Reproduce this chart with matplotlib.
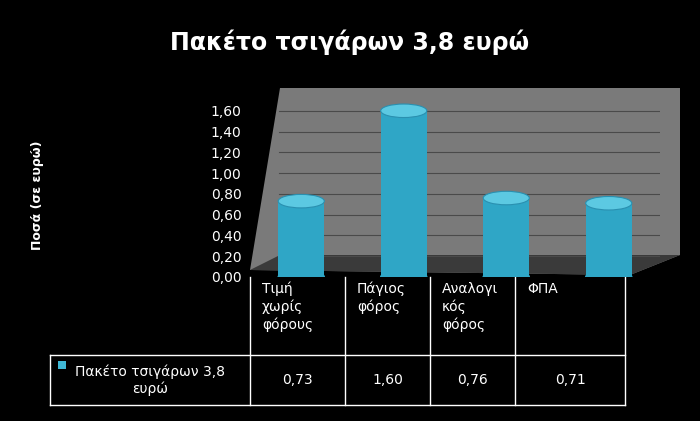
import matplotlib
matplotlib.use("Agg")
import matplotlib.pyplot as plt
import numpy as np
from matplotlib.patches import Ellipse, Rectangle, Polygon
from matplotlib.lines import Line2D

categories = ["Τιμή\nχωρίς\nφόρους", "Πάγιος\nφόρος", "Αναλογι\nκός\nφόρος", "ΦΠΑ"]
values = [0.73, 1.60, 0.76, 0.71]
value_labels = ["0,73", "1,60", "0,76", "0,71"]
series_name = "Πακέτο τσιγάρων 3,8\nευρώ"
title = "Πακέτο τσιγάρων 3,8 ευρώ"
ylabel = "Ποσά (σε ευρώ)"
yticks = [0, 0.2, 0.4, 0.6, 0.8, 1.0, 1.2, 1.4, 1.6]

W, H = 700, 421
fig = plt.figure(figsize=(7, 4.21), dpi=100, facecolor="black")
def fx(x): return x / W
def fy(y): return 1 - y / H

fig.text(0.5, fy(42), title, color="white", fontsize=17, fontweight="bold", ha="center", va="center")
fig.text(fx(38), fy(195), ylabel, color="white", fontsize=9, fontweight="bold", rotation=90, ha="center", va="center")

# background axes for the 3D wall
bg = fig.add_axes([0, 0, 1, 1])
bg.set_xlim(0, W); bg.set_ylim(H, 0); bg.axis("off"); bg.set_zorder(0)
bg.add_patch(Polygon([(250, 270), (280, 88), (680, 88), (680, 255), (630, 275)],
                     closed=True, facecolor="#7a7a7a", edgecolor="none"))
bg.add_patch(Polygon([(250, 270), (280, 255), (680, 255), (630, 275)],
                     closed=True, facecolor="#3a3a3a", edgecolor="none"))

ax = fig.add_axes([fx(250), fy(277), fx(660) - fx(250), (277 - 90) / H])
ax.set_zorder(2)
ax.set_facecolor("none")
ax.set_xlim(-0.5, 3.5)
ax.set_ylim(0, 1.8)
for t in yticks[1:]:
    ax.axhline(t, xmin=0.07, color="#4a4a4a", lw=0.8, zorder=0)
x = np.arange(len(values))
bw = 0.45
eh = 0.13
ax.bar(x, values, width=bw, color="#2fa6c6", zorder=2)
for xi, v in zip(x, values):
    ax.add_patch(Ellipse((xi, 0), bw, eh, color="#2fa6c6", zorder=2))
    ax.add_patch(Ellipse((xi, v), bw, eh, facecolor="#5cc9e2", edgecolor="#2a90b0", lw=0.8, zorder=3))
ax.set_yticks(yticks)
ax.set_yticklabels([f"{t:.2f}".replace(".", ",") for t in yticks], color="white", fontsize=10)
ax.set_xticks([])
ax.tick_params(axis="y", length=0, pad=6)
for s in ax.spines.values():
    s.set_visible(False)

# Data table
def line(x0, y0, x1, y1):
    bg.plot([x0, x1], [y0, y1], color="white", lw=1.0)
cols = [250, 345, 430, 515, 625]
line(250, 277, 250, 405)
for c in cols[1:]:
    line(c, 277, c, 405)
line(50, 355, 625, 355)
line(50, 405, 625, 405)
line(50, 355, 50, 405)
for i in range(len(categories)):
    cx = (cols[i] + cols[i + 1]) / 2
    fig.text(fx(cols[i] + 12), fy(282), categories[i], color="white", fontsize=10, ha="left", va="top", linespacing=1.3)
    fig.text(fx(cx), fy(380), value_labels[i], color="white", fontsize=10, ha="center", va="center")
bg.add_patch(Rectangle((58, 361), 8, 8, facecolor="#3fb8d6", edgecolor="none"))
fig.text(fx(150), fy(380), series_name, color="white", fontsize=10, ha="center", va="center", linespacing=1.2)

fig.savefig("out.png", facecolor="black")
